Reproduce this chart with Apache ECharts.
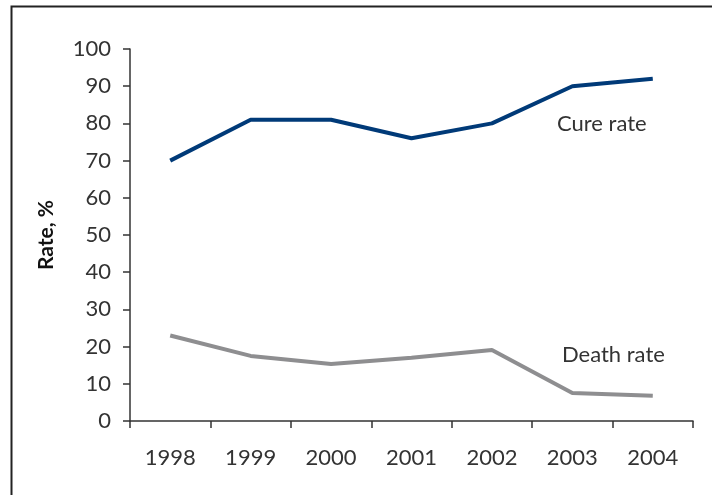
<!DOCTYPE html>
<html>
<head>
<meta charset="utf-8">
<script src="https://cdn.jsdelivr.net/npm/echarts@6/dist/echarts.min.js"></script>
<style>
  html, body { margin: 0; padding: 0; background: #fff; }
  #chart { width: 712px; height: 495px; }
</style>
</head>
<body>
<div id="chart"></div>
<script>
// chart data
const years = ['1998', '1999', '2000', '2001', '2002', '2003', '2004'];
const cureRate = [70, 81, 81, 76, 80, 90, 92];
const deathRate = [23, 17.5, 15.3, 17, 19.1, 7.5, 6.8];
const yTicks = { min: 0, max: 100, step: 10 };

const textColor = '#333';
const font = 'Lato';

let chart = echarts.init(document.getElementById('chart'));

let option = {
  animation: false,
  grid: { left: 130, top: 49, right: 19, bottom: 74 },
  graphic: [
    // frame (only left and top edges visible in the picture)
    {
      type: 'rect',
      shape: { x: 11.5, y: 6.5, width: 900, height: 700 },
      style: { fill: 'none', stroke: '#222', lineWidth: 2 },
      silent: true
    },
    {
      type: 'text',
      left: 557, top: 113,
      style: { text: 'Cure rate', fill: textColor, font: '22px ' + font }
    },
    {
      type: 'text',
      left: 562, top: 344,
      style: { text: 'Death rate', fill: textColor, font: '22px ' + font }
    }
  ],
  xAxis: {
    type: 'category',
    data: years,
    boundaryGap: true,
    axisLine: { lineStyle: { color: textColor, width: 1.5 } },
    axisTick: { show: true, length: 7, lineStyle: { color: textColor, width: 1.5 } },
    axisLabel: { color: textColor, fontSize: 22, fontFamily: font, margin: 26 }
  },
  yAxis: {
    type: 'value',
    min: yTicks.min,
    max: yTicks.max,
    interval: yTicks.step,
    name: 'Rate, %',
    nameLocation: 'middle',
    nameGap: 73,
    nameTextStyle: { color: '#111', fontSize: 21, fontWeight: 'bold', fontFamily: font },
    axisLine: { show: true, lineStyle: { color: textColor, width: 1.5 } },
    axisTick: { show: true, length: 7, lineStyle: { color: textColor, width: 1.5 } },
    axisLabel: { color: textColor, fontSize: 22, fontFamily: font, margin: 19 },
    splitLine: { show: false }
  },
  series: [
    {
      name: 'Cure rate',
      type: 'line',
      data: cureRate,
      symbol: 'none',
      lineStyle: { color: '#003a78', width: 4 }
    },
    {
      name: 'Death rate',
      type: 'line',
      data: deathRate,
      symbol: 'none',
      lineStyle: { color: '#8e8e90', width: 4 }
    }
  ]
};

chart.setOption(option);
</script>
</body>
</html>
